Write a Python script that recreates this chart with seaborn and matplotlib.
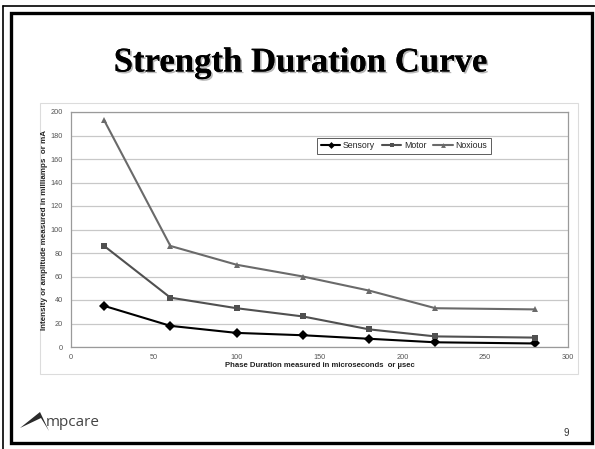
import matplotlib
matplotlib.use("Agg")
import matplotlib.pyplot as plt
import matplotlib.patheffects as pe
from matplotlib.patches import Rectangle, Polygon
from matplotlib.lines import Line2D
import pandas as pd
import seaborn as sns

# Phase duration (microseconds) and the threshold current for each response
durations = [20, 60, 100, 140, 180, 220, 280]
sensory = [35, 18, 12, 10, 7, 4, 3]
motor = [86, 42, 33, 26, 15, 9, 8]
noxious = [193, 86, 70, 60, 48, 33, 32]
series_names = ["Sensory", "Motor", "Noxious"]
x_ticks = [0, 50, 100, 150, 200, 250, 300]
y_ticks = [0, 20, 40, 60, 80, 100, 120, 140, 160, 180, 200]

df = pd.concat([
    pd.DataFrame({"duration": durations, "current": vals, "response": name})
    for name, vals in zip(series_names, [sensory, motor, noxious])
])

sns.set_theme(style="white")
plt.rcParams["font.family"] = ["Liberation Sans", "DejaVu Sans"]

W, H = 595, 449
fig = plt.figure(figsize=(W / 100, H / 100), dpi=100)
fig.patch.set_facecolor("white")


def fx(px):
    return px / W


def fy(py):
    return 1 - py / H


# slide frame: thin outer line and heavy inner border
fig.add_artist(Line2D([fx(3), fx(3)], [fy(6), 0], transform=fig.transFigure, color="black", lw=1.2))
fig.add_artist(Line2D([fx(3), 1], [fy(6), fy(6)], transform=fig.transFigure, color="black", lw=1.2))
fig.add_artist(Rectangle((fx(11), fy(443)), fx(592) - fx(11), fy(13) - fy(443),
                         transform=fig.transFigure, fill=False, edgecolor="black", lw=2.4))

# slide title with soft drop shadow
fig.text(0.505, fy(63), "Strength Duration Curve", ha="center", va="center",
         family=["Liberation Serif", "DejaVu Serif"], fontweight="bold", fontsize=25,
         color="black",
         path_effects=[pe.withSimplePatchShadow(offset=(1.2, -1.2), shadow_rgbFace="#999999", alpha=0.7),
                       pe.Normal()])

# chart area box, kept behind the axes
fig.add_artist(Rectangle((fx(40), fy(374)), fx(578) - fx(40), fy(103) - fy(374),
                         transform=fig.transFigure, facecolor="white", edgecolor="#dcdcdc",
                         lw=0.8, zorder=-1))

ax = fig.add_axes([fx(71), fy(347), fx(568) - fx(71), fy(112) - fy(347)])
ax.set_facecolor("white")

palette = {"Sensory": "#000000", "Motor": "#505050", "Noxious": "#6a6a6a"}
markers = {"Sensory": "D", "Motor": "s", "Noxious": "^"}
sns.lineplot(data=df, x="duration", y="current", hue="response", style="response",
             palette=palette, markers=markers, dashes=False, markersize=5,
             markeredgewidth=0, linewidth=1.5, ax=ax, legend=False)

ax.set_xlim(0, 300)
ax.set_ylim(0, 200)
ax.set_xticks(x_ticks)
ax.set_yticks(y_ticks)
ax.set_xticklabels([str(v) for v in x_ticks])
ax.set_yticklabels([str(v) for v in y_ticks])
ax.tick_params(axis="both", labelsize=5.3, colors="#555555", length=3, width=0.6, pad=3)
ax.tick_params(axis="x", length=0, pad=5)
ax.grid(axis="y", color="#c8c8c8", lw=0.9)
ax.grid(axis="x", visible=False)
for side, sp in ax.spines.items():
    sp.set_visible(True)
    sp.set_color("#9a9a9a")
    sp.set_linewidth(0.9)

ax.set_xlabel("Phase Duration measured in microseconds  or \u00b5sec", fontsize=5.6,
              fontweight="bold", color="#222222", labelpad=1)
ax.set_ylabel("Intensity or amplitude measured in milliamps  or mA", fontsize=5.8,
              fontweight="bold", color="#222222", labelpad=2)

handles = [Line2D([], [], color=palette[n], marker=markers[n], markersize=3.5,
                  markeredgewidth=0, lw=1.5) for n in series_names]
leg = ax.legend(handles, series_names, loc="center", bbox_to_anchor=(fx(404), fy(146)),
                bbox_transform=fig.transFigure, ncol=3, fontsize=6.3, frameon=True,
                fancybox=False, handlelength=2.2, handletextpad=0.3, columnspacing=0.8,
                borderpad=0.45)
leg.get_frame().set_edgecolor("#333333")
leg.get_frame().set_linewidth(0.7)

# company logo in the lower left corner
fig.add_artist(Polygon([[fx(20), fy(428)], [fx(40), fy(412)], [fx(49), fy(431)],
                        [fx(41), fy(418)]], closed=True, transform=fig.transFigure,
                       facecolor="#2b2b2b", edgecolor="none"))
fig.text(fx(46), fy(423), "mpcare", ha="left", va="center", fontsize=11,
         family=["Open Sans", "DejaVu Sans"], color="#444444")

# page number
fig.text(fx(566), fy(433), "9", ha="center", va="center", fontsize=7, color="#333333")

fig.savefig("out.png", dpi=100, facecolor="white")
